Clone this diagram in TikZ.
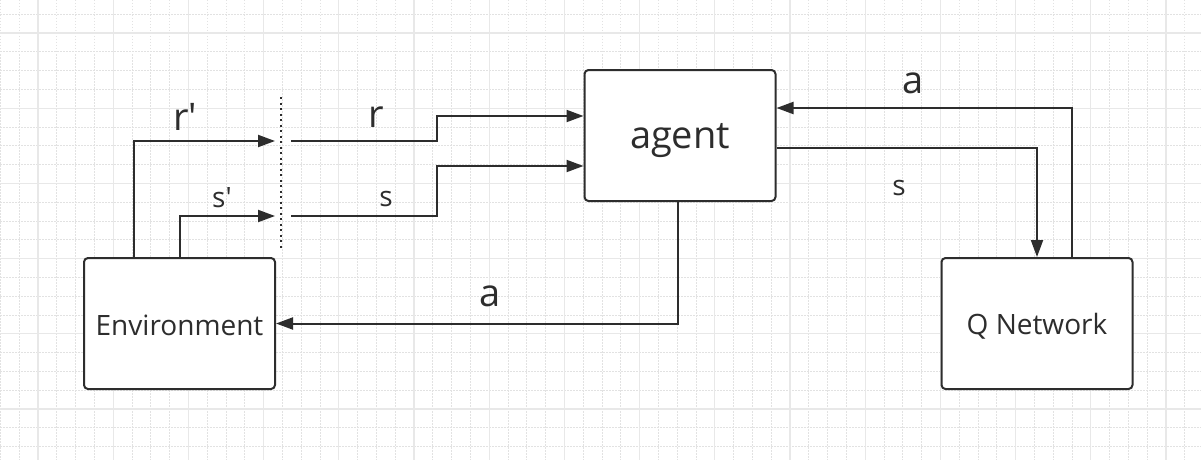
\documentclass[tikz,border=0pt]{standalone}
\usepackage{fontspec}
\setmainfont{Open Sans}
\usetikzlibrary{arrows.meta}
\definecolor{ink}{RGB}{45,45,45}
\definecolor{gridminor}{RGB}{226,226,226}
\definecolor{gridmajor}{RGB}{232,232,232}
\newcommand{\lowered}[2]{\raisebox{-#1}[\height][\depth]{#2}}

\begin{document}
\begin{tikzpicture}[x=1pt,y=-1pt,
  box/.style={draw=ink,line width=2pt,rounded corners=4pt,fill=white,minimum width=191pt,minimum height=131pt,inner sep=0pt,text=ink,font=\fontsize{28}{32}\selectfont},
  flow/.style={draw=ink,line width=2pt,-{Triangle[length=17pt,width=12pt]}},
  biglbl/.style={text=ink,font=\fontsize{38}{44}\selectfont,inner sep=0pt},
  smalllbl/.style={text=ink,font=\fontsize{28}{32}\selectfont,inner sep=0pt},
  minorgrid/.style={gridminor,line width=1pt,dash pattern=on 1.5pt off 1.5pt},
  majorgrid/.style={gridmajor,line width=1.3pt}]
\useasboundingbox (0,0) rectangle (1201,460);
\fill[white] (0,0) rectangle (1201,460);

% background grid
\foreach \k in {0,...,63} \draw[minorgrid] (0.4+18.8*\k,0) -- (0.4+18.8*\k,460);
\foreach \k in {0,...,24} \draw[minorgrid] (0,14.2+18.8*\k) -- (1201,14.2+18.8*\k);
\foreach \k in {0,...,15} \draw[majorgrid] (38+75.2*\k,0) -- (38+75.2*\k,460);
\foreach \k in {0,...,5} \draw[majorgrid] (0,33+75.2*\k) -- (1201,33+75.2*\k);

% blocks
\node[box] (env) at (179.5,323.5) {\lowered{2pt}{Environment}};
\node[box,font=\fontsize{38}{44}\selectfont] (agent) at (680,135.5) {\lowered{5pt}{agent}};
\node[box] (qnet) at (1037,323.5) {\lowered{3pt}{Q Network}};

% cut between the two time steps
\coordinate (dtop) at (281,97);
\coordinate (dbot) at (281,248);
\draw[ink,line width=2pt,dash pattern=on 2pt off 3.5pt] (dtop) -- (dbot);
\coordinate (rin) at (275,141);
\coordinate (sin) at (275,216);
\coordinate (rout) at (291,141);
\coordinate (sout) at (291,216);

\draw[flow] ([xshift=-45.5pt]env.north) |- (rin);
\draw[flow] (env.north) |- (sin);
\draw[flow] (rout) -- ++(146,0) |- ([yshift=19.5pt]agent.west);
\draw[flow] (sout) -- ++(146,0) |- ([yshift=-30.5pt]agent.west);
\draw[flow] ([xshift=-2pt]agent.south) |- (env.east);
\draw[flow] ([yshift=-12.5pt]agent.east) -| (qnet.north);
\draw[flow] ([xshift=35pt]qnet.north) |- ([yshift=27.5pt]agent.east);

% labels
\node[biglbl] (lrp) at (185,117) {r\textquotesingle};
\node[biglbl] (lr) at (376,117) {r};
\node[smalllbl] (lsp) at (222,198) {s\textquotesingle};
\node[smalllbl] (ls) at (386,199) {s};
\node[biglbl] (la) at (490,296) {a};
\node[biglbl] (lqa) at (913,83) {a};
\node[smalllbl] (lqs) at (899,188) {s};
\end{tikzpicture}
\end{document}
